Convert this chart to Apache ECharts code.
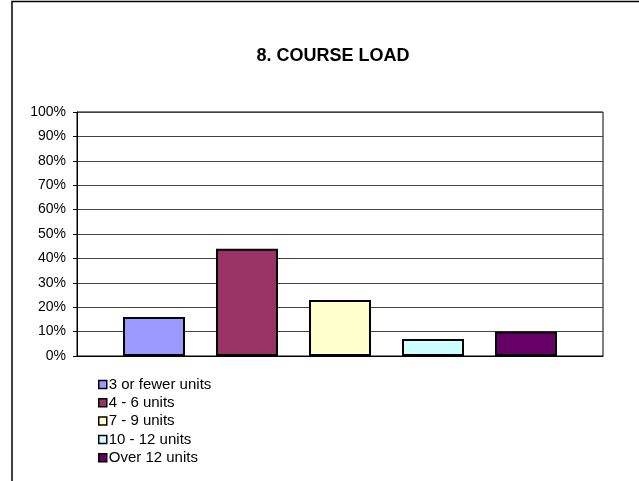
<!DOCTYPE html>
<html>
<head>
<meta charset="utf-8">
<script src="https://cdn.jsdelivr.net/npm/echarts@6/dist/echarts.min.js"></script>
<style>
  html, body { margin: 0; padding: 0; background: #fff; }
  #chart { width: 639px; height: 481px; }
</style>
</head>
<body>
<div id="chart"></div>
<script>
// course load shares (fraction of respondents)
const seriesNames = ['3 or fewer units', '4 - 6 units', '7 - 9 units', '10 - 12 units', 'Over 12 units'];
const seriesValues = [0.16, 0.44, 0.23, 0.07, 0.10];
const seriesColors = ['#9999FF', '#993366', '#FFFFCC', '#CCFFFF', '#660066'];
const categories = [''];

const chart = echarts.init(document.getElementById('chart'));

const series = seriesNames.map((name, i) => ({
  name: name,
  type: 'bar',
  data: [seriesValues[i]],
  barWidth: 62,
  barGap: '50%',
  itemStyle: {
    color: seriesColors[i],
    borderColor: '#000',
    borderWidth: 2
  },
  emphasis: { disabled: true }
}));

chart.setOption({
  animation: false,
  backgroundColor: '#fff',
  textStyle: { fontFamily: 'Liberation Sans, Arial, sans-serif' },
  graphic: [{
    type: 'rect',
    shape: { x: 12, y: 1.5, width: 700, height: 600 },
    style: { fill: 'none', stroke: '#000', lineWidth: 1.5 },
    silent: true,
    z: -1
  }],
  title: {
    text: '8. COURSE LOAD',
    left: 328,
    textAlign: 'center',
    top: 42,
    textStyle: { fontSize: 18, fontWeight: 'bold', color: '#000' }
  },
  grid: {
    left: 77,
    top: 112,
    width: 526,
    height: 244,
    show: true,
    borderColor: '#000',
    borderWidth: 1,
    backgroundColor: 'transparent'
  },
  xAxis: {
    type: 'category',
    data: categories,
    axisLine: { lineStyle: { color: '#000' } },
    axisTick: { show: false },
    axisLabel: { show: false }
  },
  yAxis: {
    type: 'value',
    min: 0,
    max: 1,
    interval: 0.1,
    axisLine: { show: true, lineStyle: { color: '#000' } },
    axisTick: { show: true, length: 4, lineStyle: { color: '#000' } },
    axisLabel: {
      color: '#000',
      fontSize: 14,
      margin: 11,
      formatter: v => Math.round(v * 100) + '%'
    },
    splitLine: { lineStyle: { color: '#444', width: 1 } }
  },
  legend: {
    orient: 'vertical',
    left: 93,
    top: 370.5,
    itemWidth: 8,
    itemHeight: 8,
    itemGap: 0.3,
    icon: 'rect',
    data: seriesNames,
    itemStyle: { borderColor: '#000', borderWidth: 1.5 },
    textStyle: { fontSize: 15, lineHeight: 18, color: '#000', padding: [0, 0, 0, -3] },
    selectedMode: false
  },
  series: series
});
</script>
</body>
</html>
